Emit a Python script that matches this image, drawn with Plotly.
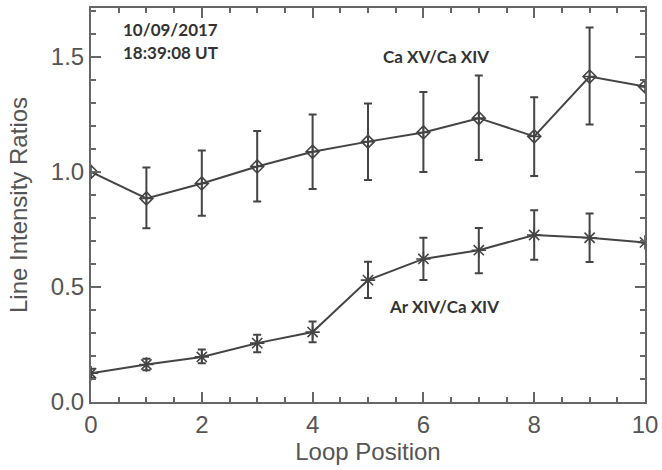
import plotly.graph_objects as go

positions = [0, 1, 2, 3, 4, 5, 6, 7, 8, 9, 10]

ca_ratio = [1.00, 0.885, 0.950, 1.024, 1.088, 1.132, 1.172, 1.234, 1.155, 1.415, 1.372]
ca_err_plus = [0.0, 0.135, 0.143, 0.154, 0.162, 0.166, 0.176, 0.185, 0.170, 0.213, 0.0]
ca_err_minus = [0.0, 0.130, 0.140, 0.152, 0.162, 0.167, 0.172, 0.182, 0.172, 0.208, 0.0]

ar_ratio = [0.125, 0.163, 0.196, 0.256, 0.304, 0.530, 0.622, 0.660, 0.726, 0.714, 0.694]
ar_err_plus = [0.02, 0.025, 0.032, 0.036, 0.046, 0.080, 0.092, 0.097, 0.108, 0.106, 0.0]
ar_err_minus = [0.02, 0.025, 0.028, 0.040, 0.044, 0.078, 0.092, 0.100, 0.108, 0.105, 0.0]

line_color = "#444444"
axis_color = "#666666"
text_color = "#555555"

fig = go.Figure()

fig.add_trace(go.Scatter(
    x=positions, y=ca_ratio, mode="lines+markers", name="Ca XV/Ca XIV",
    line=dict(color=line_color, width=2),
    marker=dict(symbol="diamond-cross-open", size=10, color=line_color, line=dict(width=1.6, color=line_color)),
    error_y=dict(type="data", symmetric=False, array=ca_err_plus, arrayminus=ca_err_minus,
                 color=line_color, thickness=2, width=4),
    cliponaxis=True,
))

fig.add_trace(go.Scatter(
    x=positions, y=ar_ratio, mode="lines+markers", name="Ar XIV/Ca XIV",
    line=dict(color=line_color, width=2),
    marker=dict(symbol="asterisk-open", size=12, color=line_color, line=dict(width=1.6, color=line_color)),
    error_y=dict(type="data", symmetric=False, array=ar_err_plus, arrayminus=ar_err_minus,
                 color=line_color, thickness=2, width=4),
    cliponaxis=True,
))

axis_font = dict(family="Liberation Sans, Arial, sans-serif", size=24, color=text_color)

fig.update_xaxes(
    range=[0, 10], tickmode="array", tickvals=[0, 2, 4, 6, 8, 10],
    ticks="inside", ticklen=10, tickwidth=1.5, tickcolor=axis_color,
    minor=dict(dtick=0.5, ticks="inside", ticklen=5, tickwidth=1.5, tickcolor=axis_color),
    showline=True, linecolor=axis_color, linewidth=2, mirror="ticks",
    showgrid=False, zeroline=False, automargin=False,
    tickfont=axis_font,
    title=dict(text="Loop Position", font=axis_font, standoff=2),
)
fig.update_yaxes(
    range=[0, 1.713], tickmode="array", tickvals=[0, 0.5, 1.0, 1.5],
    ticktext=["0.0", "0.5", "1.0", "1.5"],
    ticks="inside", ticklen=10, tickwidth=1.5, tickcolor=axis_color,
    minor=dict(dtick=0.1, ticks="inside", ticklen=5, tickwidth=1.5, tickcolor=axis_color),
    showline=True, linecolor=axis_color, linewidth=2, mirror="ticks",
    showgrid=False, zeroline=False, automargin=False,
    tickfont=axis_font,
    title=dict(text="Line Intensity Ratios", font=axis_font, standoff=16),
)

ann_font = dict(family="Lato, Open Sans, sans-serif", size=17, color="#333333")
fig.add_annotation(x=0.55, y=1.62, xref="x", yref="y", xanchor="left", yanchor="middle",
                   text="<b>10/09/2017</b>", showarrow=False, font=ann_font)
fig.add_annotation(x=0.55, y=1.52, xref="x", yref="y", xanchor="left", yanchor="middle",
                   text="<b>18:39:08 UT</b>", showarrow=False, font=ann_font)
fig.add_annotation(x=6.22, y=1.50, xref="x", yref="y", xanchor="center", yanchor="middle",
                   text="<b>Ca XV/Ca XIV</b>", showarrow=False, font=ann_font)
fig.add_annotation(x=6.38, y=0.415, xref="x", yref="y", xanchor="center", yanchor="middle",
                   text="<b>Ar XIV/Ca XIV</b>", showarrow=False, font=ann_font)

fig.update_layout(
    width=662, height=470,
    margin=dict(l=91, r=17, t=8, b=68),
    paper_bgcolor="white", plot_bgcolor="white",
    showlegend=False,
)

fig.write_html(
    "out.html",
    config={"displayModeBar": False},
    post_script="document.body.style.margin='0';document.body.style.padding='0';document.body.style.overflow='hidden';",
)
